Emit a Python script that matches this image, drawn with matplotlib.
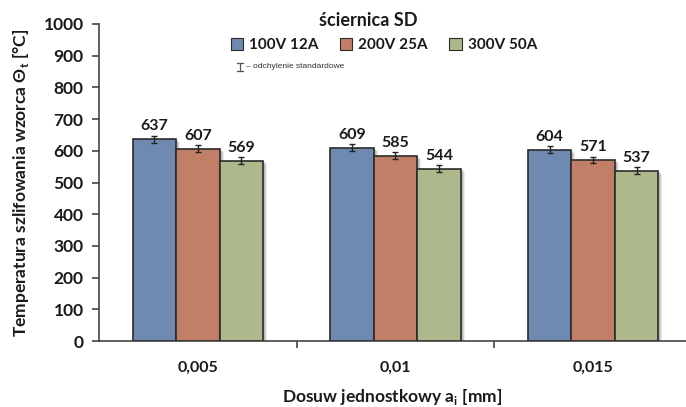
import matplotlib
matplotlib.use("Agg")
import matplotlib.pyplot as plt
import matplotlib.transforms as mtransforms
from matplotlib.patches import Patch
from matplotlib.lines import Line2D
import numpy as np

categories = ["0,005", "0,01", "0,015"]
series_names = ["100V 12A", "200V 25A", "300V 50A"]
values_100V = [637, 609, 604]
values_200V = [607, 585, 571]
values_300V = [569, 544, 537]
errors_100V = [11, 11, 11]
errors_200V = [11, 11, 11]
errors_300V = [11, 11, 11]
y_ticks = [0, 100, 200, 300, 400, 500, 600, 700, 800, 900, 1000]

colors = ["#6f8ab0", "#c27f68", "#adb88b"]
edge = "#2b2b2b"
txt = "#1a1a1a"

plt.rcParams['font.family'] = ['Lato', 'DejaVu Sans']
plt.rcParams['font.weight'] = 'bold'

fig = plt.figure(figsize=(6.86, 4.07), dpi=100)
ax = fig.add_axes([99/686, 66/407, 587/686, 317/407])

x = np.arange(len(categories))
w = 0.22
series = [values_100V, values_200V, values_300V]
errs = [errors_100V, errors_200V, errors_300V]

for i, (vals, er) in enumerate(zip(series, errs)):
    pos = x + (i - 1) * w
    # soft shadow
    for k, a in enumerate([0.12, 0.10, 0.08]):
        tr = ax.transData + mtransforms.ScaledTranslation((2 + k) / 100, -(1 + k) / 100, fig.dpi_scale_trans)
        ax.bar(pos, vals, width=w, color="#000000", alpha=a, transform=tr, zorder=1, linewidth=0)
    ax.bar(pos, vals, width=w, color=colors[i], edgecolor=edge, linewidth=1.2, zorder=3,
           label=series_names[i])
    ax.errorbar(pos, vals, yerr=er, fmt="none", ecolor="#222222", elinewidth=1.0,
                capsize=2.5, capthick=1.0, zorder=4)
    for p, v, e in zip(pos, vals, er):
        ax.text(p, v + e + 8, str(v), ha="center", va="bottom", fontsize=11.5,
                color=txt, fontweight="bold", zorder=5)

ax.set_xlim(-0.5, 2.47)
ax.set_ylim(0, 1000)
ax.set_yticks(y_ticks)
ax.set_yticklabels([str(t) for t in y_ticks], fontsize=12.5, color=txt, fontweight="bold")
ax.set_xticks(x)
ax.set_xticklabels(categories, fontsize=11.5, color=txt, fontweight="bold")
ax.set_xticks([0.5, 1.5], minor=True)
ax.tick_params(axis="x", which="major", length=0, pad=14)
ax.tick_params(axis="x", which="minor", length=5, width=1.2, color="#444444", direction="out")
ax.tick_params(axis="y", length=5, width=1.2, color="#444444", pad=6, direction="out")
for s in ["top", "right"]:
    ax.spines[s].set_visible(False)
for s in ["left", "bottom"]:
    ax.spines[s].set_color("#444444")
    ax.spines[s].set_linewidth(1.2)

ax.set_ylabel(r"Temperatura szlifowania wzorca Θ$_\mathregular{t}$ [°C]", fontsize=12.5,
              color=txt, fontweight="bold", labelpad=9)
ax.set_xlabel(r"Dosuw jednostkowy a$_\mathregular{i}$ [mm]", fontsize=12.5,
              color=txt, fontweight="bold", labelpad=9)

fig.text(368/686, 1 - 21/407, "ściernica SD", ha="center", va="center", fontsize=13,
         color=txt, fontweight="bold")
handles = [Patch(facecolor=c, edgecolor=edge, linewidth=0.8) for c in colors]
leg = fig.legend(handles, series_names, loc="center", bbox_to_anchor=(384/686, 1 - 45/407),
                 ncol=3, frameon=False, fontsize=11, handlelength=0.8, handleheight=0.8,
                 handletextpad=0.4, columnspacing=1.4, borderpad=0)
for t in leg.get_texts():
    t.set_color(txt)
    t.set_fontweight("bold")

# error bar note symbol
fig.lines.append(Line2D([240/686, 240/686], [1 - 63/407, 1 - 71/407], color="#555555", lw=0.9,
                        transform=fig.transFigure))
for yy in [63, 71]:
    fig.lines.append(Line2D([237/686, 243/686], [1 - yy/407, 1 - yy/407], color="#555555", lw=0.9,
                            transform=fig.transFigure))
fig.text(246/686, 1 - 67/407, "– odchylenie standardowe", ha="left", va="center", fontsize=6,
         color="#333333", fontweight="normal", family=["Liberation Sans", "DejaVu Sans"])

fig.savefig("out.png", dpi=100)
